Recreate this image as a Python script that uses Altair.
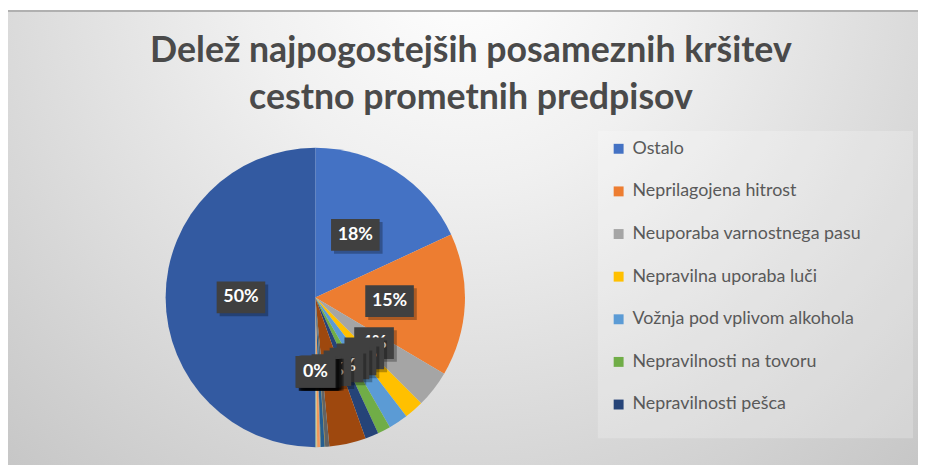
import altair as alt
import pandas as pd

# ---------------- data ----------------
categories = [
    "Ostalo",
    "Neprilagojena hitrost",
    "Neuporaba varnostnega pasu",
    "Nepravilna uporaba luči",
    "Vožnja pod vplivom alkohola",
    "Nepravilnosti na tovoru",
    "Nepravilnosti pešca",
    "Nepravilno prehitevanje",
    "Neupoštevanje prednosti",
    "Nepravilno parkiranje",
    "Uporaba mobilnega telefona",
    "Nepravilno obračanje",
    "Nepravilna smer vožnje",
    "Nepravilno vključevanje",
    "Nepravilnosti kolesarjev",
    "Neupoštevanje prometnih znakov",
    "Tehnična neoporečnost vozila",
    "Nepravilen premik vozila",
    "Skupaj",
]
values = [18.1, 15.4, 4.0, 2.1, 2.1, 1.4, 1.45, 3.95, 0.45, 0.05,
          0.4, 0.05, 0.05, 0.3, 0.05, 0.05, 0.05, 0.05, 50.0]
colors = ["#4472C4", "#ED7D31", "#A5A5A5", "#FFC000", "#5B9BD5", "#70AD47",
          "#264478", "#9E480E", "#636363", "#997300", "#255E91", "#43682B",
          "#698ED0", "#F1975A", "#B7B7B7", "#FFCD33", "#7CAFDD", "#8CC168",
          "#335AA1"]
legend_shown = categories[:7]
title_lines = ["Delež najpogostejših posameznih kršitev", "cestno prometnih predpisov"]

df = pd.DataFrame({"kategorija": categories, "delez": values,
                   "idx": list(range(len(categories)))})

# ---------------- layout ----------------
W, H = 918, 459
CX, CY, R, LR = 310, 290, 151, 75
FONT = "Lato"

one = pd.DataFrame({"a": [0]})

bg = alt.Chart(one).mark_rect(
    color=alt.Gradient(
        gradient="radial",
        stops=[alt.GradientStop(color="#ffffff", offset=0),
               alt.GradientStop(color="#f0f0f0", offset=0.3),
               alt.GradientStop(color="#c2c2c2", offset=1)],
        x1=0.5, y1=0.2, r1=0, x2=0.5, y2=0.2, r2=0.8)
).encode(x=alt.value(0), x2=alt.value(W), y=alt.value(0), y2=alt.value(H))

topline = alt.Chart(one).mark_rule(color="#b0b0b0", strokeWidth=2).encode(
    x=alt.value(0), x2=alt.value(W), y=alt.value(1))

legend_box = alt.Chart(one).mark_rect(color="#ffffff", opacity=0.22).encode(
    x=alt.value(595), x2=alt.value(913), y=alt.value(122), y2=alt.value(432))

title = alt.Chart(one).mark_text(
    font=FONT, fontWeight="bold", fontSize=36, color="#4a4a4a",
    baseline="top", align="center", lineHeight=48
).encode(x=alt.value(467), y=alt.value(24), text=alt.value(title_lines))

pie = alt.Chart(df).mark_arc(outerRadius=R).encode(
    theta=alt.Theta("delez:Q", stack=True),
    order=alt.Order("idx:Q"),
    color=alt.Color(
        "kategorija:N",
        scale=alt.Scale(domain=categories, range=colors),
        legend=alt.Legend(
            values=legend_shown, title=None, orient="none",
            legendX=607, legendY=131, symbolType="square", symbolSize=100,
            symbolStrokeWidth=0, labelFont=FONT, labelFontSize=18,
            labelColor="#595959", rowPadding=25, labelOffset=5, padding=0,
            labelLimit=400)),
    x=alt.value(CX), y=alt.value(CY))

lab = alt.Chart(df).transform_joinaggregate(
    total="sum(delez)"
).transform_window(
    cum="sum(delez)", sort=[alt.SortField("idx")], frame=[None, 0]
).transform_calculate(
    mid="(datum.cum - datum.delez / 2) / datum.total * 2 * PI",
    lx=f"{CX} + {LR} * sin(datum.mid)",
    ly=f"{CY} - {LR} * cos(datum.mid)",
    txt="format(datum.delez / datum.total, '.0%')",
    bw="22 + 9 * length(datum.txt)",
    bx1="datum.lx - datum.bw / 2",
    bx2="datum.lx + datum.bw / 2",
    by1="datum.ly - 16",
    by2="datum.ly + 16",
    sx1="datum.bx1 + 3", sx2="datum.bx2 + 3",
    sy1="datum.by1 + 3", sy2="datum.by2 + 3",
)

label_layers = []
for i in range(len(categories)):
    f = lab.transform_filter(f"datum.idx == {i}")
    shadow = f.mark_rect(color="#000000", opacity=0.28).encode(
        x=alt.X("sx1:Q", scale=None), x2="sx2:Q",
        y=alt.Y("sy1:Q", scale=None), y2="sy2:Q")
    box = f.mark_rect(color="#404040").encode(
        x=alt.X("bx1:Q", scale=None), x2="bx2:Q",
        y=alt.Y("by1:Q", scale=None), y2="by2:Q")
    txt = f.mark_text(font=FONT, fontWeight="bold", fontSize=18, color="#ffffff",
                      align="center", baseline="middle").encode(
        x=alt.X("lx:Q", scale=None), y=alt.Y("ly:Q", scale=None), text="txt:N")
    label_layers += [shadow, box, txt]

chart = alt.layer(bg, topline, legend_box, title, pie, *label_layers).properties(
    width=W, height=H, padding=0, autosize=alt.AutoSizeParams(type="none")
).configure_view(stroke=None)

chart.save("out.html", embed_options={"renderer": "svg", "actions": False})
